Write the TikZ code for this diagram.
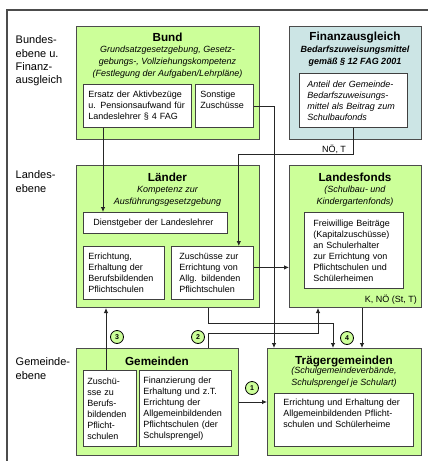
\documentclass[tikz,border=0pt]{standalone}
\usepackage{fontspec}
\setmainfont{Liberation Sans}
\usetikzlibrary{arrows.meta,positioning}
\definecolor{lgreen}{RGB}{204,255,153}
\definecolor{lblue}{RGB}{204,229,229}
\tikzset{
	panel/.style={draw=black!70, line width=1pt, fill=lgreen, anchor=north west, inner sep=0pt},
	cell/.style={draw=black!75, line width=0.8pt, fill=white, anchor=north west, align=left, inner xsep=5pt, inner ysep=2pt, font=\fontsize{9}{11}\selectfont},
	ttl/.style={font=\fontsize{11.7}{14}\selectfont\bfseries, inner sep=0pt},
	sub/.style={font=\fontsize{9}{12}\selectfont\itshape, align=center, inner sep=0pt},
	lvl/.style={font=\fontsize{11}{13.3}\selectfont, align=left, anchor=west, inner sep=0pt},
	lbl/.style={font=\fontsize{9}{11}\selectfont, inner sep=1pt},
	num/.style={circle, draw=black, line width=0.8pt, fill=lgreen, minimum size=13pt, inner sep=0pt, font=\fontsize{7}{8}\selectfont\bfseries},
	conn/.style={draw=black!85, line width=0.8pt, -{Latex[length=5pt,width=4.5pt]}},
}

\begin{document}
\begin{tikzpicture}[x=1pt,y=-1pt]
			%%%%% START %%%%%
			\useasboundingbox (0,0) rectangle (428,461);
			\draw[draw=black!70, line width=1.3pt] (428,10) -- (7,10) -- (7,461);
			
			\node[lvl] (ebeneB) at (15.5,61) {Bundes-\\ebene u.\\Finanz-\\ausgleich};
			\node[lvl] (ebeneL) at (15.5,181.5) {Landes-\\ebene};
			\node[lvl] (ebeneG) at (15.5,368.5) {Gemeinde-\\ebene};
			
			\node[panel, minimum width=183pt, minimum height=113pt] (bund) at (76,26) {};
			\node[panel, fill=lblue, minimum width=132pt, minimum height=113pt] (fin) at (289,26) {};
			\node[panel, minimum width=183pt, minimum height=142pt] (laender) at (76,165) {};
			\node[panel, minimum width=132pt, minimum height=142pt] (land) at (289,165) {};
			\node[panel, minimum width=162pt, minimum height=107pt] (gem) at (76,348) {};
			\node[panel, minimum width=154pt, minimum height=107pt] (traeger) at (267,348) {};
			
			\node[ttl] (bundT) at (167.5,37) {Bund};
			\node[sub] (bundS) at (167.5,62) {Grundsatzgesetzgebung, Gesetz-\\gebungs-, Vollziehungskompetenz\\(Festlegung der Aufgaben/Lehrpläne)};
			\node[ttl] (finT) at (355,37) {Finanzausgleich};
			\node[sub, font=\fontsize{9}{12}\selectfont\bfseries\itshape] (finS) at (355,56) {Bedarfszuweisungsmittel\\gemäß § 12 FAG 2001};
			\node[ttl] (laenderT) at (167.5,177) {Länder};
			\node[sub] (laenderS) at (167.5,196) {Kompetenz zur\\Ausführungsgesetzgebung};
			\node[ttl] (landT) at (355,177) {Landesfonds};
			\node[sub] (landS) at (355,196.5) {(Schulbau- und\\Kindergartenfonds)};
			\node[ttl] (gemT) at (157,361) {Gemeinden};
			\node[ttl] (traegerT) at (344,361) {Trägergemeinden};
			\node[sub] (traegerS) at (344,377) {(Schulgemeindeverbände,\\Schulsprengel je Schulart)};
			
			\node[cell, text width=98pt, minimum height=43pt] (ersatz) at (83,84) {Ersatz der Aktivbezüge\\u. Pensionsaufwand für\\Landeslehrer § 4 FAG};
			\node[cell, text width=48pt, text height=11pt, text depth=28pt] (sonst) at (195,84) {Sonstige\\Zuschüsse};
			\node[cell, inner xsep=8pt, text width=92pt, minimum height=54pt, font=\fontsize{9}{11}\selectfont\itshape] (finI) at (299,73) {Anteil der Gemeinde-\\Bedarfszuweisungs-\\mittel als Beitrag zum\\Schulbaufonds};
			\node[cell, inner xsep=10pt, text width=124pt, minimum height=21pt] (dienst) at (83,212) {Dienstgeber der Landeslehrer};
			\node[cell, text width=71pt, minimum height=53pt] (errich) at (83,246) {Errichtung,\\Erhaltung der\\Berufsbildenden\\Pflichtschulen};
			\node[cell, inner xsep=8pt, text width=66pt, minimum height=53pt] (zusch) at (171,246) {Zuschüsse zur\\Errichtung von\\Allg. bildenden\\Pflichtschulen};
			\node[cell, inner xsep=9pt, text width=81pt, minimum height=76pt] (landI) at (304,212) {Freiwillige Beiträge\\(Kapitalzuschüsse)\\an Schulerhalter\\zur Errichtung von\\Pflichtschulen und\\Schülerheimen};
			\node[cell, inner xsep=4pt, text width=45pt, minimum height=76pt] (gemZ) at (83,370) {Zuschü-\\sse zu\\Berufs-\\bildenden\\Pflicht-\\schulen};
			\node[cell, inner xsep=4pt, text width=84pt, minimum height=76pt] (finz) at (139,370) {Finanzierung der\\Erhaltung und z.T.\\Errichtung der\\Allgemeinbildenden\\Pflichtschulen (der\\Schulsprengel)};
			\node[cell, inner xsep=9pt, text width=121pt, text height=10.5pt, text depth=38.5pt] (traegI) at (274,393) {Errichtung und Erhaltung der\\Allgemeinbildenden Pflicht-\\schulen und Schülerheime};
			
			\node[lbl, anchor=east] (knoe) at (418,300) {K, NÖ (St, T)};
			
			% Geldfluesse
			\draw[conn] ([xshift=20pt]ersatz.south west) -- ([xshift=20pt]ersatz.south west |- dienst.north);
			\draw[conn] (sonst.east) -| ([xshift=7pt]traeger.north west);
			\draw[conn] (finI.south) -- ++(0,27) node[lbl, above left=0pt and 6pt] (noeT) {NÖ, T} -| ([xshift=-15pt]zusch.north east);
			\draw[conn] ([yshift=5.5pt]zusch.east) -- ([yshift=5.5pt]zusch.east -| land.west);
			\draw[conn] ([xshift=132pt]laender.south west) -- ++(0,15) -| ([xshift=66pt]traeger.north west);
			\draw[conn] ([xshift=132pt]gem.north west) -- ++(0,-15) -| ([xshift=29pt]land.south west);
			\draw[conn] ([xshift=73pt]land.south west) -- ([xshift=73pt]land.south west |- traeger.north);
			\draw[conn] ([xshift=23pt]gemZ.north west) -- ([xshift=23pt]gemZ.north west |- laender.south);
			\draw[conn] (gem.east) -- (gem.east -| traeger.west);
			
			\node[num] (c1) at (252,388) {1};
			\node[num] (c2) at (198,337) {2};
			\node[num] (c3) at (117,337) {3};
			\node[num] (c4) at (347,338) {4};
			
			%%%%% END %%%%%
\end{tikzpicture}
\end{document}
